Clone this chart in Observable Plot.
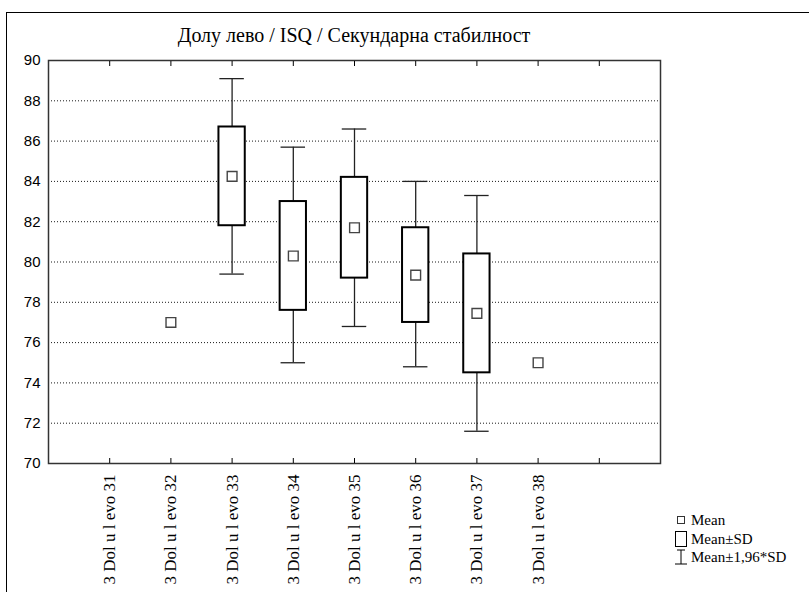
<!DOCTYPE html>
<html>
<head>
<meta charset="utf-8">
<script src="https://cdn.jsdelivr.net/npm/d3@7"></script>
<script src="https://cdn.jsdelivr.net/npm/@observablehq/plot@0.6"></script>
<style>
  html, body { margin: 0; padding: 0; background: #fff; overflow: hidden; }
  #wrap { position: relative; width: 809px; height: 592px; overflow: hidden; }
  #frame { position: absolute; left: 6px; top: 12px; width: 900px; height: 700px; border: 1.5px solid #000; }
  #title { position: absolute; left: 48px; width: 612px; top: 24px; text-align: center;
           font-family: "Liberation Serif", "DejaVu Serif", serif; font-size: 20px; color: #000; }
  #chart { position: absolute; left: 0; top: 0; }
  #legend { position: absolute; left: 675px; top: 511px; font-family: "Liberation Serif", "Times New Roman", serif; font-size: 15px; line-height: 18.5px; color: #000; }
  #legend div { display: flex; align-items: center; white-space: nowrap; }
  #legend svg { margin-right: 4px; }
</style>
</head>
<body>
<div id="wrap">
  <div id="frame"></div>
  <div id="chart"></div>
  <div id="title">Долу лево / ISQ / Секундарна стабилност</div>
  <div id="legend">
    <div><svg width="12" height="14"><rect x="2.5" y="3.5" width="7" height="7" fill="#fff" stroke="#333" stroke-width="1"/></svg>Mean</div>
    <div><svg width="12" height="16"><rect x="0.5" y="0.5" width="11" height="15" fill="#fff" stroke="#000" stroke-width="1"/></svg>Mean±SD</div>
    <div><svg width="12" height="16"><line x1="6" y1="1" x2="6" y2="15" stroke="#000"/><line x1="2" y1="1" x2="10" y2="1" stroke="#000"/><line x1="0" y1="15" x2="12" y2="15" stroke="#000"/></svg>Mean±1,96*SD</div>
  </div>
</div>
<script>
const categories = [31, 32, 33, 34, 35, 36, 37, 38];
const catLabels = categories.map(c => "3 Dol u l evo " + c);
const means  = [null, 77.0, 84.25, 80.3, 81.7, 79.35, 77.45, 75.0];
const sdLow  = [null, null, 81.8, 77.6, 79.2, 77.0, 74.5, null];
const sdHigh = [null, null, 86.7, 83.0, 84.2, 81.7, 80.4, null];
const ciLow  = [null, null, 79.4, 75.0, 76.8, 74.8, 71.6, null];
const ciHigh = [null, null, 89.1, 85.7, 86.6, 84.0, 83.3, null];
const yTicks = [70, 72, 74, 76, 78, 80, 82, 84, 86, 88, 90];
const xTicks = [31, 32, 33, 34, 35, 36, 37, 38, 39];

const rows = categories.map((c, i) => ({
  cat: c, label: catLabels[i], mean: means[i],
  sdLow: sdLow[i], sdHigh: sdHigh[i], ciLow: ciLow[i], ciHigh: ciHigh[i]
}));
const withBox = rows.filter(d => d.sdLow != null);
const withMean = rows.filter(d => d.mean != null);
const labelOf = new Map(categories.map((c, i) => [c, catLabels[i]]));

const boxHalf = 0.215, capHalf = 0.2;
const serif = "Liberation Serif, DejaVu Serif, serif";

const chart = Plot.plot({
  width: 809,
  height: 592,
  marginLeft: 48,
  marginRight: 149,
  marginTop: 60,
  marginBottom: 129,
  style: { background: "transparent", overflow: "visible" },
  x: { domain: [30, 40], axis: null, label: null },
  y: { domain: [70, 90], axis: null, label: null },
  marks: [
    Plot.gridY(yTicks.slice(1, -1), { stroke: "#000", strokeOpacity: 0.9, strokeDasharray: "1,2", strokeWidth: 1 }),
    Plot.ruleX(withBox, { x: "cat", y1: "ciLow", y2: "ciHigh", stroke: "#222", strokeWidth: 1.3 }),
    Plot.ruleY(withBox, { x1: d => d.cat - capHalf, x2: d => d.cat + capHalf, y: "ciLow", stroke: "#222", strokeWidth: 1.3 }),
    Plot.ruleY(withBox, { x1: d => d.cat - capHalf, x2: d => d.cat + capHalf, y: "ciHigh", stroke: "#222", strokeWidth: 1.3 }),
    Plot.rect(withBox, { x1: d => d.cat - boxHalf, x2: d => d.cat + boxHalf, y1: "sdLow", y2: "sdHigh", fill: "#fff", stroke: "#000", strokeWidth: 2 }),
    Plot.dot(withMean, { x: "cat", y: "mean", symbol: "square", r: 5.5, fill: "#fff", stroke: "#444", strokeWidth: 1.4 }),
    Plot.frame({ stroke: "#333", strokeWidth: 1.5 }),
    Plot.axisY(yTicks, { anchor: "left", label: null, tickSize: 0, tickPadding: 8, fontSize: 15, fontFamily: "Liberation Sans, Arial, sans-serif", fill: "#000" }),
    Plot.axisX(xTicks, { anchor: "bottom", label: null, tickSize: -5, stroke: "#000", tickFormat: () => "" }),
    Plot.axisX(xTicks, { anchor: "top", label: null, tickSize: -5, stroke: "#000", tickFormat: () => "" }),
    Plot.axisX(categories, { anchor: "bottom", label: null, tickSize: 0, tickPadding: 11, tickRotate: -90, textAnchor: "end",
      tickFormat: d => labelOf.get(d), fontSize: 17, fontFamily: serif, fill: "#000" })
  ]
});
document.getElementById("chart").appendChild(chart);
</script>
</body>
</html>
